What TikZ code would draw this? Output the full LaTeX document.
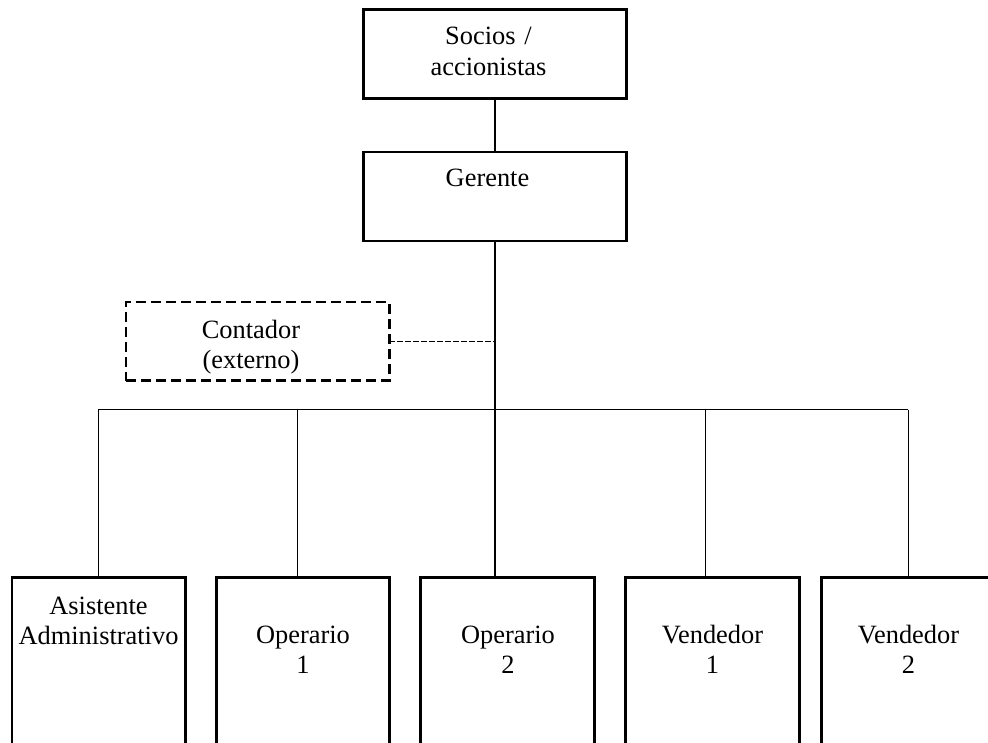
\documentclass[tikz,border=0pt]{standalone}
\usepackage{fontspec}
\setmainfont{Liberation Serif}
\begin{document}
\begin{tikzpicture}[x=1pt,y=-1pt,
  box/.style={draw, line width=2.8pt, rectangle, inner sep=0pt, outer sep=0pt, anchor=north west},
  dbox/.style={box, dash pattern=on 10pt off 5pt},
  topbox/.style={box, minimum width=263.2pt, minimum height=89pt},
  staff/.style={box, minimum width=173.5pt, minimum height=220pt},
  lbl/.style={inner sep=0pt, anchor=base, align=center, text width=200pt,
              font=\fontsize{26.4}{30.5}\selectfont},
  conn/.style={line width=1.3pt},
  trunk/.style={line width=2pt},
  dconn/.style={line width=1.3pt, dash pattern=on 5.3pt off 2.7pt}]
\useasboundingbox (0,0) rectangle (988,743);
\clip (0,0) rectangle (988,743);

% top of the chart
\node[topbox] (soc) at (363.3,9.5) {};
\node[lbl] (soctxt) at (488.5,45) {Socios /\\accionistas};
\node[topbox] (ger) at (363.3,152) {};
\node[lbl] (gertxt) at (487.5,187) {Gerente};

% external accountant
\node[dbox, minimum width=263.2pt, minimum height=78.8pt] (cont) at (126,302) {};
\node[lbl] (conttxt) at (251,338) {Contador\\(externo)};

% staff boxes
\node[staff] (asis) at (12,577.3) {};
\node[lbl] (asistxt) at (98.5,614) {Asistente\\Administrativo};
\node[staff] (op1) at (216.3,577.3) {};
\node[lbl] (op1txt) at (303,643) {Operario\\1};
\node[staff] (op2) at (420.7,577.3) {};
\node[lbl] (op2txt) at (508,643) {Operario\\2};
\node[staff] (ven1) at (625.7,577.3) {};
\node[lbl] (ven1txt) at (712.5,643) {Vendedor\\1};
\node[staff] (ven2) at (821.3,577.3) {};
\node[lbl] (ven2txt) at (908.5,643) {Vendedor\\2};

% bus junctions
\coordinate (j1) at (98.3,409.7);
\coordinate (j2) at (297.7,409.7);
\coordinate (j3) at (494.9,409.7);
\coordinate (j4) at (705.7,409.7);
\coordinate (j5) at (908.3,409.7);
\coordinate (dj) at (494.9,341.4);

% connectors
\draw[conn] (soc.south) -- (ger.north);
\draw[trunk] (ger.south) -- (j3);
\draw[dconn] (cont.east) -- (dj);
\draw[conn] (j1) -- (j5);
\draw[conn] (j1) -- (j1 |- asis.north);
\draw[conn] (j2) -- (j2 |- op1.north);
\draw[conn] (j3) -- (j3 |- op2.north);
\draw[conn] (j4) -- (j4 |- ven1.north);
\draw[conn] (j5) -- (j5 |- ven2.north);
\end{tikzpicture}
\end{document}
